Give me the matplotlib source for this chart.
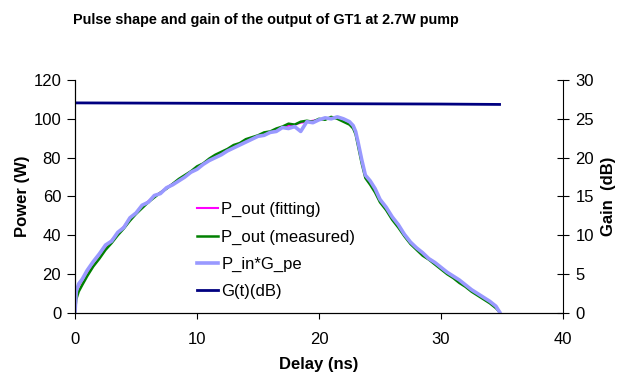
import matplotlib
matplotlib.use("Agg")
import matplotlib.pyplot as plt

plt.rcParams['font.family'] = ['Liberation Sans', 'DejaVu Sans']

# delay (ns) and output power (W)
delay = [0.0, 0.1, 0.3, 0.6, 1.0, 1.5, 2.0, 2.5, 3.0, 3.5, 4.0, 4.5, 5.0, 5.5, 6.0,
         6.5, 7.0, 7.5, 8.0, 8.5, 9.0, 9.5, 10.0, 10.5, 11.0, 11.5, 12.0, 12.5,
         13.0, 13.5, 14.0, 14.5, 15.0, 15.5, 16.0, 16.5, 17.0, 17.5, 18.0, 18.5,
         19.0, 19.5, 20.0, 20.5, 21.0, 21.5, 22.0, 22.5, 22.8, 23.0, 23.2, 23.5,
         23.8, 24.2, 24.6, 25.0, 25.5, 26.0, 26.5, 27.0, 27.5, 28.0, 28.5, 29.0,
         29.5, 30.0, 30.5, 31.0, 31.5, 32.0, 32.5, 33.0, 33.5, 34.0, 34.5, 34.8]

p_fit = [0.5, 10, 14, 17, 21, 26, 30, 34, 37.5, 41, 44.5, 48.5, 51.5, 55, 57.5,
         60, 62, 64.5, 66.5, 68.5, 70.5, 72.5, 75, 77, 79, 80.5, 82, 84, 85.5,
         87, 88.5, 90, 91, 92, 93, 94.5, 95.5, 96.5, 97, 98, 98.5, 99, 99.5,
         100, 100.5, 100.5, 99.5, 98, 96, 93, 87, 78, 70, 67, 63, 58, 53.5, 49,
         44.5, 40, 36, 33, 30.5, 28, 25.5, 23, 20.5, 18.5, 16.5, 14, 11.5, 9.5,
         7.5, 5.5, 3, 0.5]

p_meas = [0.5, 7, 11, 14.5, 19, 24, 28, 32.5, 36, 40, 43.5, 47.5, 51, 54, 57,
          59.5, 62, 64, 66.5, 69, 71, 73, 75.5, 77, 79.5, 81.5, 83, 84.5, 86.5,
          87.5, 89.5, 90.5, 91.5, 93, 93.5, 95, 96, 97.5, 97, 98.5, 99, 98.5,
          100, 99.5, 101, 100, 98.5, 97, 95, 92, 86, 77, 69.5, 66, 62, 57, 53,
          48, 44, 39.5, 35.5, 32.5, 29.5, 27.5, 25, 22.5, 20, 18, 15.5, 13.5,
          11, 9, 7, 5, 2.5, 0.5]

p_in_g = [0.5, 11, 15, 17.5, 22, 26.5, 30.5, 35, 37, 41.5, 44, 49, 51.5, 55.5,
          57, 60.5, 61.5, 64.5, 66, 68, 70, 72.5, 74, 76.5, 78.5, 80, 81.5,
          83.5, 85, 86.5, 88, 89.5, 91, 91.5, 93, 93.5, 95.5, 95, 96, 93.5,
          98.5, 98, 99.5, 100.5, 100, 101, 100, 98.5, 96.5, 93.5, 88, 79, 71,
          68, 64, 58.5, 54.5, 49.5, 45.5, 40.5, 36.5, 33.5, 31, 28, 26, 23.5,
          21, 19, 17, 14.5, 12, 10, 8, 6, 3.5, 0.5]

gain_delay = [0.0, 10.0, 20.0, 30.0, 34.8]
gain_db = [27.05, 27.0, 26.95, 26.9, 26.85]

fig = plt.figure(figsize=(6.18, 3.76), dpi=100)
ax1 = fig.add_axes([0.1214, 0.1676, 0.7896, 0.6197])
ax2 = ax1.twinx()

l1, = ax1.plot(delay, p_fit, color='#FF00FF', lw=1.5, label='P_out (fitting)')
l2, = ax1.plot(delay, p_meas, color='#008000', lw=1.8, label='P_out (measured)')
l3, = ax1.plot(delay, p_in_g, color='#9999FF', lw=2.6, label='P_in*G_pe')
l4, = ax2.plot(gain_delay, gain_db, color='#000080', lw=2, label='G(t)(dB)')

ax1.set_xlim(0, 40)
ax1.set_ylim(0, 120)
ax2.set_ylim(0, 30)
ax1.set_xticks([0, 10, 20, 30, 40])
ax1.set_yticks(range(0, 121, 20))
ax2.set_yticks(range(0, 31, 5))

for ax in (ax1, ax2):
    ax.spines['top'].set_visible(False)
ax1.spines['right'].set_visible(False)
ax1.tick_params(axis='x', direction='out', length=4, labelsize=12, width=0.8, pad=10)
ax1.tick_params(axis='y', direction='out', length=6, labelsize=12, width=0.8, pad=4)
ax2.tick_params(direction='inout', length=8, labelsize=12, width=0.8, pad=5)

ax1.set_xlabel('Delay (ns)', fontsize=12, fontweight='bold', labelpad=7)
ax1.set_ylabel('Power (W)', fontsize=12, fontweight='bold', labelpad=2)
ax2.set_ylabel('Gain  (dB)', fontsize=12, fontweight='bold', labelpad=5)

fig.suptitle('Pulse shape and gain of the output of GT1 at 2.7W pump',
             fontsize=10.4, fontweight='bold', x=0.43, y=0.965)

ax2.legend(handles=[l1, l2, l3, l4], loc='upper left',
           bbox_to_anchor=(0.25, 0.475), frameon=False, fontsize=12,
           borderaxespad=0, borderpad=0,
           handlelength=1.25, handletextpad=0.2, labelspacing=0.72)

fig.savefig('out.png', dpi=100)
